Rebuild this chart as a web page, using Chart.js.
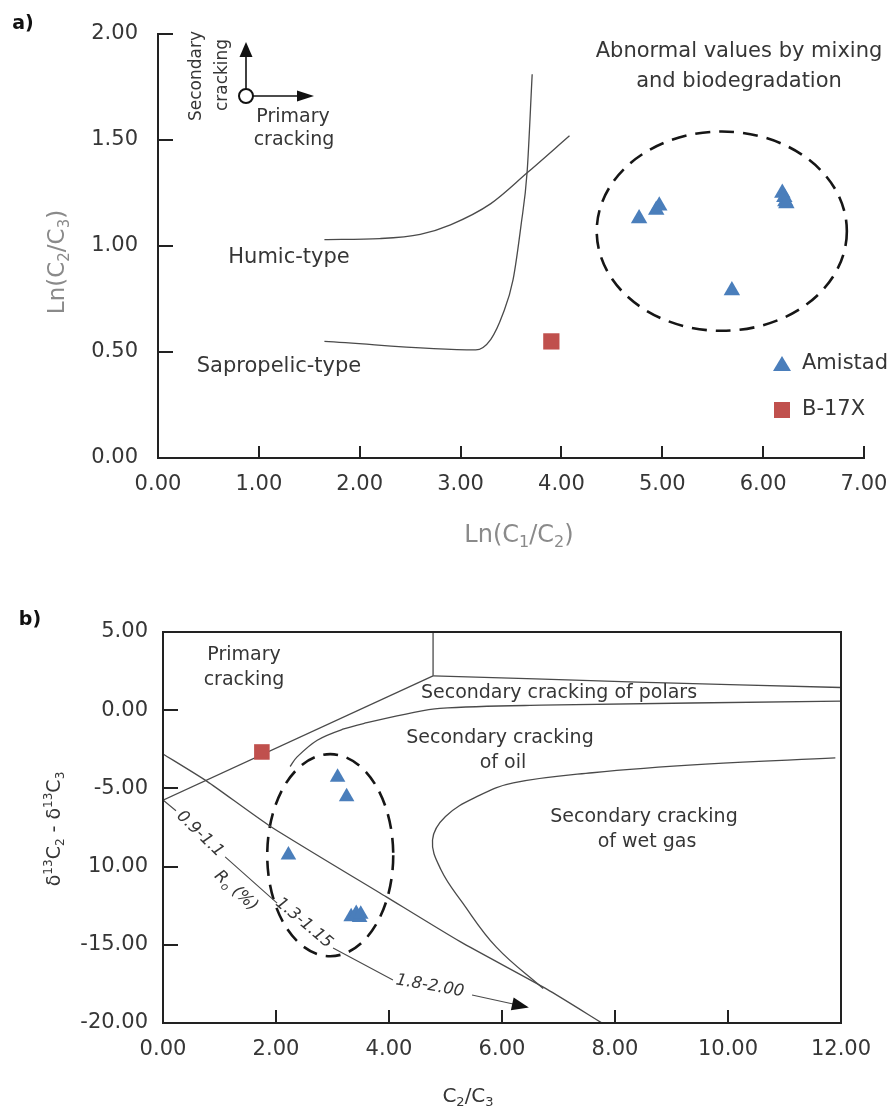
<!DOCTYPE html>
<html>
<head>
<meta charset="utf-8">
<script src="https://cdn.jsdelivr.net/npm/chart.js@4/dist/chart.umd.min.js"></script>
<style>
  html, body { margin: 0; padding: 0; background: #fff; }
  body { width: 891px; height: 1113px; overflow: hidden; position: relative; }
  #panelA { position: absolute; left: 0; top: 0; width: 891px; height: 560px; }
  #panelB { position: absolute; left: 0; top: 560px; width: 891px; height: 553px; }
</style>
</head>
<body>
<div id="panelA"><canvas id="chartA"></canvas></div>
<div id="panelB"><canvas id="chartB"></canvas></div>
<script>
// ---------- Panel a: Ln(C2/C3) vs Ln(C1/C2) ----------
const aXTicks = ['0.00', '1.00', '2.00', '3.00', '4.00', '5.00', '6.00', '7.00'];
const aYTicks = ['0.00', '0.50', '1.00', '1.50', '2.00'];

const humicX = [1.65, 2.20, 2.60, 2.90, 3.30, 3.66, 4.08];
const humicY = [1.03, 1.035, 1.055, 1.10, 1.20, 1.345, 1.52];

const saproX = [1.65, 3.15, 3.30, 3.42, 3.52, 3.60, 3.66, 3.71];
const saproY = [0.55, 0.51, 0.56, 0.68, 0.84, 1.10, 1.35, 1.81];

const amistadAX = [4.77, 4.94, 4.97, 6.19, 6.21, 6.22, 6.23, 5.69];
const amistadAY = [1.13, 1.17, 1.19, 1.25, 1.23, 1.21, 1.20, 0.79];

const b17xAX = [3.90];
const b17xAY = [0.55];

// dashed envelope around the anomalous Amistad samples (data units)
const envelopeA = { cx: 5.59, cy: 1.07, rx: 1.24, ry: 0.47 };

// ---------- Panel b: δ13C2 - δ13C3 vs C2/C3 ----------
const bXTicks = ['0.00', '2.00', '4.00', '6.00', '8.00', '10.00', '12.00'];
const bYTicks = ['-20.00', '-15.00', '10.00', '-5.00', '0.00', '5.00'];

const primaryX = [0, 4.78];
const primaryY = [-5.75, 2.2];

const ridgeX = [4.78, 4.78];
const ridgeY = [2.2, 5.0];

const polarsX = [4.78, 8.4, 12.0];
const polarsY = [2.2, 1.8, 1.45];

const oilX = [2.25, 2.37, 2.73, 3.20, 3.61, 4.30, 4.90, 6.70, 12.0];
const oilY = [-3.6, -3.0, -1.92, -1.2, -0.8, -0.25, 0.12, 0.32, 0.58];

const wetGasX = [11.9, 9.6, 7.6, 6.2, 5.6, 5.0, 4.77, 4.92, 5.3, 5.9, 6.73];
const wetGasY = [-3.05, -3.45, -4.0, -4.65, -5.45, -6.8, -8.3, -10.2, -12.3, -15.15, -17.8];

const maturityX = [0, 0.78, 1.89, 3.96, 5.26, 6.8, 7.77];
const maturityY = [-2.8, -4.55, -7.4, -11.95, -14.8, -17.85, -20];

// Ro (%) scale drawn as a broken guide line (null = gap for a label)
const roGuideX = [0, 0.23, 0.6, 1.10, 2.02, 2.5, 3.01, 4.07, 4.8, 5.47, 6.44];
const roGuideY = [-5.74, -6.43, null, -9.38, -12.33, null, -15.2, -17.25, null, -18.21, -18.98];

const amistadBX = [3.09, 3.25, 2.22, 3.33, 3.42, 3.48, 3.50];
const amistadBY = [-4.28, -5.53, -9.26, -13.2, -13.0, -13.25, -13.05];

const b17xBX = [1.75];
const b17xBY = [-2.67];

const envelopeB = { cx: 2.96, cy: -9.27, rx: 1.115, ry: 6.46 };

// ---------- shared styling ----------
const FONT = '"DejaVu Sans", Verdana, sans-serif';
const INK = '#363636';
const LINE = '#4a4a4a';
const AXIS = '#222';
const BLUE = '#4a7ebb';
const RED = '#c0504d';

const pts = (xs, ys) => xs.map((x, i) => ({ x, y: ys[i] }));

function curve(xs, ys, tension, mode) {
  return {
    showLine: true, data: pts(xs, ys), borderColor: LINE, borderWidth: 1.3,
    pointRadius: 0, pointHoverRadius: 0, tension: tension, fill: false, spanGaps: false,
    cubicInterpolationMode: mode || 'default'
  };
}
function markers(name, xs, ys, style, radius, color) {
  return {
    label: name, showLine: false, data: pts(xs, ys), pointStyle: style,
    pointRadius: radius, pointHoverRadius: radius, backgroundColor: color,
    borderColor: color, borderWidth: 0
  };
}

function text(ctx, s, x, y, font, color, rot, align) {
  ctx.save();
  ctx.translate(x, y);
  if (rot) ctx.rotate(rot);
  ctx.font = font;
  ctx.fillStyle = color;
  ctx.textAlign = align || 'center';
  ctx.textBaseline = 'middle';
  ctx.fillText(s, 0, 0);
  ctx.restore();
}

// text with sub (1) / superscript (-1) runs, centred on (x, y)
function rich(ctx, parts, x, y, size, color, rot, style) {
  const pre = style ? style + ' ' : '';
  const small = Math.round(size * 0.65);
  ctx.save();
  ctx.translate(x, y);
  if (rot) ctx.rotate(rot);
  ctx.fillStyle = color;
  ctx.textBaseline = 'middle';
  ctx.textAlign = 'left';
  let w = 0;
  parts.forEach(([t, k]) => { ctx.font = `${pre}${k ? small : size}px ${FONT}`; w += ctx.measureText(t).width; });
  let cx = -w / 2;
  parts.forEach(([t, k]) => {
    ctx.font = `${pre}${k ? small : size}px ${FONT}`;
    const dy = k === 1 ? size * 0.3 : (k === -1 ? -size * 0.32 : 0);
    ctx.fillText(t, cx, dy);
    cx += ctx.measureText(t).width;
  });
  ctx.restore();
}

function arrowHead(ctx, tipX, tipY, angle, len, half) {
  ctx.save();
  ctx.translate(tipX, tipY);
  ctx.rotate(angle);
  ctx.beginPath();
  ctx.moveTo(0, 0);
  ctx.lineTo(-len, -half);
  ctx.lineTo(-len, half);
  ctx.closePath();
  ctx.fill();
  ctx.restore();
}

function drawEnvelope(chart, e) {
  const { ctx, scales: { x, y } } = chart;
  const cx = x.getPixelForValue(e.cx), cy = y.getPixelForValue(e.cy);
  const rx = Math.abs(x.getPixelForValue(e.cx + e.rx) - cx);
  const ry = Math.abs(y.getPixelForValue(e.cy + e.ry) - cy);
  ctx.save();
  ctx.strokeStyle = '#161616';
  ctx.lineWidth = 2.6;
  ctx.setLineDash([15, 9]);
  ctx.beginPath();
  ctx.ellipse(cx, cy, rx, ry, 0, 0, Math.PI * 2);
  ctx.stroke();
  ctx.restore();
}

function inwardTicks(chart, xVals, yVals, xLen, yLen) {
  const { ctx, chartArea: a, scales: { x, y } } = chart;
  ctx.save();
  ctx.strokeStyle = AXIS;
  ctx.lineWidth = 2;
  ctx.beginPath();
  xVals.forEach(v => { const p = Math.round(x.getPixelForValue(v)); ctx.moveTo(p, a.bottom); ctx.lineTo(p, a.bottom - xLen); });
  yVals.forEach(v => { const p = Math.round(y.getPixelForValue(v)); ctx.moveTo(a.left, p); ctx.lineTo(a.left + yLen, p); });
  ctx.stroke();
  ctx.restore();
}

function axisCfg(min, max, step, labels, size, pad, fit) {
  return {
    type: 'linear', min: min, max: max,
    afterFit: s => {
      fit(s);
      // the plot area is fixed by the layout padding; no extra room for end labels
      s.paddingLeft = 0; s.paddingRight = 0; s.paddingTop = 0; s.paddingBottom = 0;
    },
    grid: { display: false, drawTicks: false },
    border: { display: true, color: AXIS, width: 2 },
    ticks: {
      stepSize: step, autoSkip: false, maxRotation: 0, padding: pad, color: INK,
      font: { family: FONT, size: size },
      callback: v => labels[Math.round((v - min) / step)]
    }
  };
}

// ---------- panel a decorations ----------
const decorA = {
  id: 'decorA',
  beforeDatasetsDraw(chart) { drawEnvelope(chart, envelopeA); },
  afterDraw(chart) {
    const { ctx } = chart;
    inwardTicks(chart, [1, 2, 3, 4, 5, 6, 7], [0.5, 1.0, 1.5, 2.0], 12, 15);

    text(ctx, 'a)', 23, 24, `bold 19px ${FONT}`, '#111');

    // cracking direction sketch
    ctx.save();
    ctx.strokeStyle = '#111'; ctx.fillStyle = '#111'; ctx.lineWidth = 1.6;
    ctx.beginPath(); ctx.moveTo(246, 89); ctx.lineTo(246, 56); ctx.stroke();
    ctx.beginPath(); ctx.moveTo(253, 96); ctx.lineTo(297, 96); ctx.stroke();
    arrowHead(ctx, 246, 42, -Math.PI / 2, 15, 6.5);
    arrowHead(ctx, 314, 96, 0, 17, 5.5);
    ctx.lineWidth = 2;
    ctx.beginPath(); ctx.arc(246, 96, 7, 0, Math.PI * 2);
    ctx.fillStyle = '#fff'; ctx.fill(); ctx.stroke();
    ctx.restore();

    text(ctx, 'Secondary', 197, 76, `17px ${FONT}`, INK, -Math.PI / 2);
    text(ctx, 'cracking', 223, 75, `17px ${FONT}`, INK, -Math.PI / 2);
    text(ctx, 'Primary', 293, 117, `19px ${FONT}`, INK);
    text(ctx, 'cracking', 294, 140, `19px ${FONT}`, INK);

    text(ctx, 'Humic-type', 289, 258, `21px ${FONT}`, INK);
    text(ctx, 'Sapropelic-type', 279, 367, `21px ${FONT}`, INK);
    text(ctx, 'Abnormal values by mixing', 739, 52, `21px ${FONT}`, INK);
    text(ctx, 'and biodegradation', 739, 82, `21px ${FONT}`, INK);

    // legend
    ctx.save();
    ctx.fillStyle = BLUE;
    ctx.beginPath(); ctx.moveTo(782, 356); ctx.lineTo(791, 371); ctx.lineTo(773, 371); ctx.closePath(); ctx.fill();
    ctx.fillStyle = RED;
    ctx.fillRect(774, 402, 16, 16);
    ctx.restore();
    text(ctx, 'Amistad', 802, 364, `21px ${FONT}`, INK, 0, 'left');
    text(ctx, 'B-17X', 802, 410, `21px ${FONT}`, INK, 0, 'left');

    rich(ctx, [['Ln(C', 0], ['2', 1], ['/C', 0], ['3', 1], [')', 0]], 58, 262, 23, '#8a8a8a', -Math.PI / 2);
    rich(ctx, [['Ln(C', 0], ['1', 1], ['/C', 0], ['2', 1], [')', 0]], 519, 536, 24, '#8a8a8a', 0);
  }
};

// ---------- panel b decorations ----------
const decorB = {
  id: 'decorB',
  beforeDatasetsDraw(chart) { drawEnvelope(chart, envelopeB); },
  afterDraw(chart) {
    const { ctx, chartArea: a, scales: { x, y } } = chart;
    ctx.save();
    ctx.strokeStyle = AXIS; ctx.lineWidth = 2;
    ctx.strokeRect(a.left, a.top, a.right - a.left, a.bottom - a.top);
    ctx.restore();
    inwardTicks(chart, [2, 4, 6, 8, 10], [0, -5, -10, -15], 13, 15);

    text(ctx, 'b)', 30, 60, `bold 19px ${FONT}`, '#111');

    text(ctx, 'Primary', 244, 95, `19px ${FONT}`, INK);
    text(ctx, 'cracking', 244, 120, `19px ${FONT}`, INK);
    text(ctx, 'Secondary cracking of polars', 559, 133, `19px ${FONT}`, INK);
    text(ctx, 'Secondary cracking', 500, 178, `19px ${FONT}`, INK);
    text(ctx, 'of oil', 503, 203, `19px ${FONT}`, INK);
    text(ctx, 'Secondary cracking', 644, 257, `19px ${FONT}`, INK);
    text(ctx, 'of wet gas', 647, 282, `19px ${FONT}`, INK);

    // Ro (%) scale labels along the guide line
    const deg = d => d * Math.PI / 180;
    text(ctx, '0.9-1.1', 200, 274, `italic 16.5px ${FONT}`, INK, deg(44));
    text(ctx, '1.3-1.15', 304, 363, `italic 16.5px ${FONT}`, INK, deg(40));
    text(ctx, '1.8-2.00', 430, 426, `italic 16.5px ${FONT}`, INK, deg(10));
    rich(ctx, [['R', 0], ['o', 1], [' (%)', 0]], 236, 331, 16.5, INK, deg(42), 'italic');

    // arrow at the end of the Ro guide
    const n = roGuideX.length;
    const tx = x.getPixelForValue(roGuideX[n - 1]), ty = y.getPixelForValue(roGuideY[n - 1]);
    const px = x.getPixelForValue(roGuideX[n - 2]), py = y.getPixelForValue(roGuideY[n - 2]);
    ctx.save();
    ctx.fillStyle = '#111';
    arrowHead(ctx, tx + 2, ty + 0.5, Math.atan2(ty - py, tx - px), 17, 6.5);
    ctx.restore();

    rich(ctx, [['δ', 0], ['13', -1], ['C', 0], ['2', 1], [' - δ', 0], ['13', -1], ['C', 0], ['3', 1]], 55, 269, 19, INK, -Math.PI / 2);
    rich(ctx, [['C', 0], ['2', 1], ['/C', 0], ['3', 1]], 468, 537, 20, INK, 0);
  }
};

const common = {
  responsive: true, maintainAspectRatio: false, animation: false,
  events: [],
  plugins: { legend: { display: false }, tooltip: { enabled: false } }
};

new Chart(document.getElementById('chartA'), {
  type: 'scatter',
  data: {
    datasets: [
      markers('Amistad', amistadAX, amistadAY, 'triangle', 9.5, BLUE),
      markers('B-17X', b17xAX, b17xAY, 'rect', 11.5, RED),
      curve(humicX, humicY, 0.4, 'monotone'),
      curve(saproX, saproY, 0.4, 'monotone')
    ]
  },
  options: Object.assign({}, common, {
    layout: { padding: { left: 0, right: 27, top: 34, bottom: 0 } },
    scales: {
      x: axisCfg(0, 7, 1, aXTicks, 21, 14, s => { s.height = 102; }),
      y: axisCfg(0, 2, 0.5, aYTicks, 21, 20, s => { s.width = 158; })
    }
  }),
  plugins: [decorA]
});

new Chart(document.getElementById('chartB'), {
  type: 'scatter',
  data: {
    datasets: [
      markers('Amistad', amistadBX, amistadBY, 'triangle', 9, BLUE),
      markers('B-17X', b17xBX, b17xBY, 'rect', 11, RED),
      curve(primaryX, primaryY, 0),
      curve(ridgeX, ridgeY, 0),
      curve(polarsX, polarsY, 0.3),
      curve(oilX, oilY, 0.35),
      curve(wetGasX, wetGasY, 0.4),
      curve(maturityX, maturityY, 0.2),
      Object.assign(curve(roGuideX, roGuideY, 0), { borderWidth: 1.1 })
    ]
  },
  options: Object.assign({}, common, {
    layout: { padding: { left: 0, right: 50, top: 72, bottom: 0 } },
    scales: {
      x: axisCfg(0, 12, 2, bXTicks, 21, 14, s => { s.height = 90; }),
      y: axisCfg(-20, 5, 5, bYTicks, 21, 15, s => { s.width = 163; })
    }
  }),
  plugins: [decorB]
});
</script>
</body>
</html>
